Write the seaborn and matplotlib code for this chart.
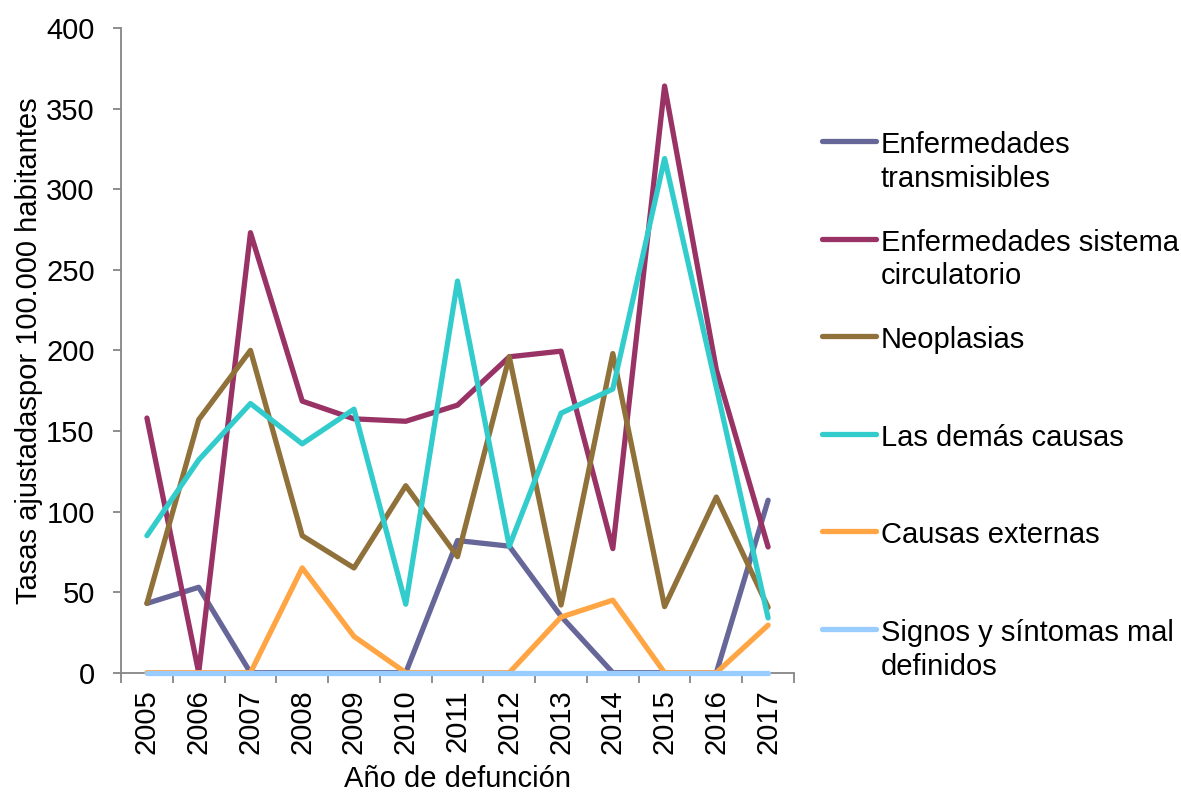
import matplotlib
matplotlib.use("Agg")
import matplotlib.pyplot as plt
import seaborn as sns
import pandas as pd

# Age-adjusted mortality rates per 100,000 inhabitants, by cause group
years = [2005, 2006, 2007, 2008, 2009, 2010, 2011, 2012, 2013, 2014, 2015, 2016, 2017]
transmisibles = [43, 53, 0, 0, 0, 0, 82, 78.5, 35, 0, 0, 0, 107]
circulatorio = [158, 0, 273, 168.5, 157.5, 156, 166, 196, 199.5, 77, 364, 188, 78]
neoplasias = [43, 157, 200, 85, 65, 116, 72, 196, 42, 198, 41, 109, 40.5]
demas_causas = [85, 132, 167, 142, 163.5, 42.5, 243, 78.5, 161, 176, 319, 177, 34]
externas = [0, 0, 0, 65, 22.5, 0, 0, 0, 34.5, 45, 0, 0, 29.5]
signos = [0, 0, 0, 0, 0, 0, 0, 0, 0, 0, 0, 0, 0]

series_names = [
    "Enfermedades\ntransmisibles",
    "Enfermedades sistema\ncirculatorio",
    "Neoplasias",
    "Las demás causas",
    "Causas externas",
    "Signos y síntomas mal\ndefinidos",
]
series_values = [transmisibles, circulatorio, neoplasias, demas_causas, externas, signos]
colors = ["#666699", "#993366", "#8F7139", "#33CCCC", "#FFA544", "#99CCFF"]

y_ticks = [0, 50, 100, 150, 200, 250, 300, 350, 400]

rows = []
for name, vals in zip(series_names, series_values):
    for yr, v in zip(years, vals):
        rows.append({"Año": yr, "Tasa": v, "Causa": name})
df = pd.DataFrame(rows)

sns.set_theme(style="white")
plt.rcParams["font.family"] = ["Liberation Sans", "DejaVu Sans"]

FS = 21
LW = 3.8

fig = plt.figure(figsize=(11.81, 7.93), dpi=100)
ax = fig.add_axes([0.1025, 0.1517, 0.5698, 0.8130])

sns.lineplot(
    data=df, x="Año", y="Tasa", hue="Causa", hue_order=series_names,
    palette=dict(zip(series_names, colors)), sort=False, ax=ax,
    linewidth=LW, solid_capstyle="round", solid_joinstyle="round",
    errorbar=None,
)
for ln in ax.get_lines():
    ln.set_clip_on(False)
    ln.set_zorder(3)

ax.set_xlim(years[0] - 0.5, years[-1] + 0.5)
ax.set_ylim(0, 400)
ax.set_yticks(y_ticks)
ax.set_yticklabels([str(t) for t in y_ticks], fontsize=FS)

# category boundaries as major ticks, year labels on minor ticks
ax.set_xticks([y - 0.5 for y in years] + [years[-1] + 0.5])
ax.set_xticklabels([])
ax.set_xticks(years, minor=True)
ax.set_xticklabels([str(y) for y in years], minor=True, rotation=90, fontsize=FS)

spine_color = "#868686"
for side in ["top", "right"]:
    ax.spines[side].set_visible(False)
for side in ["left", "bottom"]:
    ax.spines[side].set_color(spine_color)
    ax.spines[side].set_linewidth(1.3)
    ax.spines[side].set_zorder(2)

ax.tick_params(axis="x", which="major", direction="out", length=7, width=1.3,
               color=spine_color, bottom=True)
ax.tick_params(axis="x", which="minor", length=0, pad=12, labelcolor="black")
ax.tick_params(axis="y", which="major", direction="out", length=6, width=1.3,
               color=spine_color, left=True, pad=13, labelcolor="black")

ax.set_xlabel("Año de defunción", fontsize=FS, labelpad=8, color="black")
ax.set_ylabel("Tasas ajustadaspor 100.000 habitantes", fontsize=FS, color="black",
              labelpad=2)

handles, labels = ax.get_legend_handles_labels()
padded = [lab if "\n" in lab else lab + "\n " for lab in labels]
leg = ax.legend(
    handles, padded, loc="upper left", bbox_to_anchor=(0.696, 0.8348),
    bbox_transform=fig.transFigure, frameon=False, fontsize=FS,
    handlelength=1.85, handletextpad=0.17, labelspacing=1.22, borderpad=0,
    borderaxespad=0,
)
for t in leg.get_texts():
    t.set_linespacing(1.27)
    t.set_color("black")
for h in leg.get_lines():
    h.set_linewidth(LW)
    h.set_solid_capstyle("round")
for col in leg._legend_handle_box.get_children():
    for entry in col.get_children():
        entry.align = "top"

fig.savefig("out.png", dpi=100)
